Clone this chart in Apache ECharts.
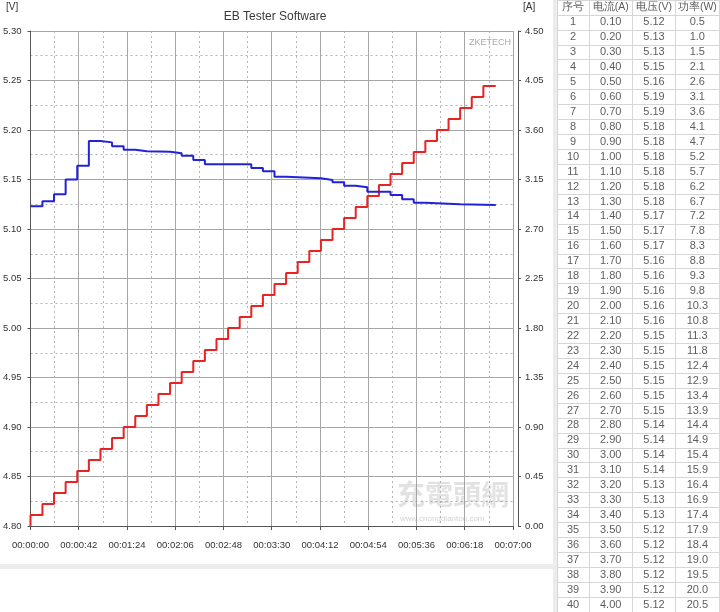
<!DOCTYPE html>
<html><head><meta charset="utf-8">
<script src="https://cdn.jsdelivr.net/npm/echarts@6/dist/echarts.min.js"></script>
<style>html,body{margin:0;padding:0;background:#fff}#c{width:720px;height:612px}</style>
</head><body><div id="c"></div>
<script>
// ---- chart data (seconds / A / V) ----
const stepTimes = [0, 10.4, 20.5, 30.6, 40.7, 50.8, 60.9, 71.0, 81.1, 91.2, 101.3, 111.4, 121.5, 131.6, 141.7, 151.8, 161.9, 172.0, 182.1, 192.2,
  202.3, 212.4, 222.5, 232.6, 242.7, 252.8, 262.9, 273.0, 283.1, 293.2, 303.3, 313.4, 323.5, 333.6, 343.7, 353.8, 363.9, 374.0, 384.1, 394.2];
const endTime = 405;
const stepCurrent = [0.10, 0.20, 0.30, 0.40, 0.50, 0.60, 0.70, 0.80, 0.90, 1.00, 1.10, 1.20, 1.30, 1.40, 1.50, 1.60, 1.70, 1.80, 1.90, 2.00,
  2.10, 2.20, 2.30, 2.40, 2.50, 2.60, 2.70, 2.80, 2.90, 3.00, 3.10, 3.20, 3.30, 3.40, 3.50, 3.60, 3.70, 3.80, 3.90, 4.00];
const voltTimes = [0, 10.4, 20.5, 30.6, 40.7, 50.8, 60.9, 71.0, 81.1, 91.2, 101.3, 121.5, 131.6, 141.7, 151.8, 192.2, 202.3, 212.4, 222.5,
  252.8, 262.9, 273.0, 283.1, 293.2, 313.4, 323.5, 333.6, 343.7, 374.0];
const voltValues = [5.123, 5.128, 5.135, 5.150, 5.164, 5.189, 5.1875, 5.1835, 5.180, 5.1785, 5.178, 5.1765, 5.174, 5.1697, 5.1653, 5.1616, 5.1583, 5.1528, 5.1512,
  5.1495, 5.1472, 5.1438, 5.1421, 5.1377, 5.1343, 5.130, 5.1266, 5.125, 5.1243];

// ---- table data ----
const tableHeaders = ['序号', '电流(A)', '电压(V)', '功率(W)'];
const seqNo = [1,2,3,4,5,6,7,8,9,10,11,12,13,14,15,16,17,18,19,20,21,22,23,24,25,26,27,28,29,30,31,32,33,34,35,36,37,38,39,40];
const tableCurrent = [0.10,0.20,0.30,0.40,0.50,0.60,0.70,0.80,0.90,1.00,1.10,1.20,1.30,1.40,1.50,1.60,1.70,1.80,1.90,2.00,
  2.10,2.20,2.30,2.40,2.50,2.60,2.70,2.80,2.90,3.00,3.10,3.20,3.30,3.40,3.50,3.60,3.70,3.80,3.90,4.00];
const tableVoltage = [5.12,5.13,5.13,5.15,5.16,5.19,5.19,5.18,5.18,5.18,5.18,5.18,5.18,5.17,5.17,5.17,5.16,5.16,5.16,5.16,
  5.16,5.15,5.15,5.15,5.15,5.15,5.15,5.14,5.14,5.14,5.14,5.13,5.13,5.13,5.12,5.12,5.12,5.12,5.12,5.12];
const tablePower = [0.5,1.0,1.5,2.1,2.6,3.1,3.6,4.1,4.7,5.2,5.7,6.2,6.7,7.2,7.8,8.3,8.8,9.3,9.8,10.3,
  10.8,11.3,11.8,12.4,12.9,13.4,13.9,14.4,14.9,15.4,15.9,16.4,16.9,17.4,17.9,18.4,19.0,19.5,20.0,20.5];

const FONT = '"Liberation Sans", Arial, sans-serif';

const currentData = [[0, 0]];
stepTimes.forEach((t, i) => currentData.push([t, stepCurrent[i]]));
currentData.push([endTime, stepCurrent[stepCurrent.length - 1]]);

const voltData = voltTimes.map((t, i) => [t, voltValues[i]]);
voltData.push([endTime, voltValues[voltValues.length - 1]]);

function hms(v) {
  const s = Math.round(v);
  const p = n => String(n).padStart(2, '0');
  return p(Math.floor(s / 3600)) + ':' + p(Math.floor(s / 60) % 60) + ':' + p(s % 60);
}

const rowCats = ['h'].concat(seqNo.map(String));
const col0 = [{ value: [0, 0], t: tableHeaders[0], label: { fontSize: 10.5 } }];
const colR = [1, 2, 3].map(c => ({ value: [c - 1, 0], t: tableHeaders[c], label: { fontSize: 10.5 } }));
seqNo.forEach((n, i) => {
  col0.push({ value: [0, i + 1], t: String(n) });
  colR.push({ value: [0, i + 1], t: tableCurrent[i].toFixed(2) });
  colR.push({ value: [1, i + 1], t: tableVoltage[i].toFixed(2) });
  colR.push({ value: [2, i + 1], t: tablePower[i].toFixed(1) });
});

const gridLine = { show: true, lineStyle: { color: '#a6a6a6', width: 1 } };
const minorLine = { show: true, lineStyle: { color: '#b4b4b4', width: 1, type: [2, 3] } };
const axisLineS = { show: true, lineStyle: { color: '#555', width: 1 } };
const lblS = { color: '#333', fontSize: 9.5, fontFamily: FONT };
const tblLine = { show: true, interval: 0, lineStyle: { color: '#d6d6d6', width: 1 } };

const chart = echarts.init(document.getElementById('c'), null, { renderer: 'canvas' });
chart.setOption({
  animation: false,
  backgroundColor: '#fff',
  title: { text: 'EB Tester Software', left: 270, top: 6, textAlign: 'center',
    textStyle: { fontSize: 12, fontWeight: 'normal', color: '#3a3a3a', fontFamily: FONT } },
  grid: [
    { left: 29, top: 31, width: 484, height: 495 },
    { left: 557, top: 0, width: 32, height: 612 },
    { left: 589, top: 0, width: 130, height: 612 }
  ],
  xAxis: [
    { type: 'value', gridIndex: 0, min: 0, max: 420, interval: 42, offset: 5,
      axisLine: axisLineS, axisTick: { show: true, length: 4, lineStyle: { color: '#555' } },
      axisLabel: Object.assign({ margin: 9, formatter: hms, showMinLabel: true, showMaxLabel: true }, lblS),
      splitLine: gridLine, minorTick: { show: false, splitNumber: 2 }, minorSplitLine: minorLine },
    { type: 'category', gridIndex: 1, data: [tableHeaders[0]], boundaryGap: true,
      axisLine: { show: false }, axisTick: { show: false }, axisLabel: { show: false }, splitLine: tblLine },
    { type: 'category', gridIndex: 2, data: tableHeaders.slice(1), boundaryGap: true,
      axisLine: { show: false }, axisTick: { show: false }, axisLabel: { show: false }, splitLine: tblLine }
  ],
  yAxis: [
    { type: 'value', gridIndex: 0, min: 4.80, max: 5.30, interval: 0.05, offset: 4, position: 'left',
      axisLine: axisLineS, axisTick: { show: true, length: 3, lineStyle: { color: '#555' } },
      axisLabel: Object.assign({ margin: 5, formatter: v => v.toFixed(2) }, lblS),
      splitLine: gridLine, minorTick: { show: false, splitNumber: 2 }, minorSplitLine: minorLine },
    { type: 'value', gridIndex: 0, min: 0, max: 4.5, interval: 0.45, offset: 5, position: 'right',
      axisLine: axisLineS, axisTick: { show: true, length: 3, lineStyle: { color: '#555' } },
      axisLabel: Object.assign({ margin: 7, formatter: v => v.toFixed(2) }, lblS),
      splitLine: { show: false } },
    { type: 'category', gridIndex: 1, data: rowCats, inverse: true, boundaryGap: true,
      axisLine: { show: false }, axisTick: { show: false }, axisLabel: { show: false }, splitLine: tblLine },
    { type: 'category', gridIndex: 2, data: rowCats, inverse: true, boundaryGap: true,
      axisLine: { show: false }, axisTick: { show: false }, axisLabel: { show: false }, splitLine: tblLine }
  ],
  series: [
    { type: 'line', name: '电流', xAxisIndex: 0, yAxisIndex: 1, data: currentData, step: 'end',
      showSymbol: false, symbol: 'none', lineStyle: { color: '#e82323', width: 2 }, silent: true, z: 3 },
    { type: 'line', name: '电压', xAxisIndex: 0, yAxisIndex: 0, data: voltData, step: 'end',
      showSymbol: false, symbol: 'none', lineStyle: { color: '#2222d8', width: 2 }, silent: true, z: 4 },
    { type: 'scatter', xAxisIndex: 1, yAxisIndex: 2, data: col0, symbolSize: 0, silent: true,
      label: { show: true, position: 'inside', formatter: p => p.data.t, color: '#333', fontSize: 11, fontFamily: FONT } },
    { type: 'scatter', xAxisIndex: 2, yAxisIndex: 3, data: colR, symbolSize: 0, silent: true,
      label: { show: true, position: 'inside', formatter: p => p.data.t, color: '#333', fontSize: 11, fontFamily: FONT } }
  ],
  graphic: [
    { type: 'text', left: 6, top: 2, style: { text: '[V]', fill: '#333', font: '10px ' + FONT } },
    { type: 'text', left: 523, top: 2, style: { text: '[A]', fill: '#333', font: '10px ' + FONT } },
    { type: 'text', left: 469, top: 38, style: { text: 'ZKETECH', fill: '#a8a8a8', font: '9px ' + FONT } },
    { type: 'text', left: 397, top: 480, z: 1, style: { text: '充電頭網', fill: 'rgba(150,150,150,0.28)', font: 'bold 28px "Noto Sans CJK TC", sans-serif' } },
    { type: 'text', left: 400, top: 515, z: 1, style: { text: 'www.chongdiantou.com', fill: 'rgba(140,140,140,0.4)', font: '8px ' + FONT } },
    { type: 'rect', shape: { x: 0, y: 564, width: 553, height: 5 }, style: { fill: '#ececec' } },
    { type: 'rect', shape: { x: 553, y: 0, width: 4, height: 612 }, style: { fill: '#ececec' } },
    { type: 'line', shape: { x1: 557.5, y1: 0, x2: 557.5, y2: 612 }, style: { stroke: '#a0a0a0', lineWidth: 1 } },
    { type: 'line', shape: { x1: 719.5, y1: 0, x2: 719.5, y2: 612 }, style: { stroke: '#c8c8c8', lineWidth: 1 } }
  ]
});
</script></body></html>
